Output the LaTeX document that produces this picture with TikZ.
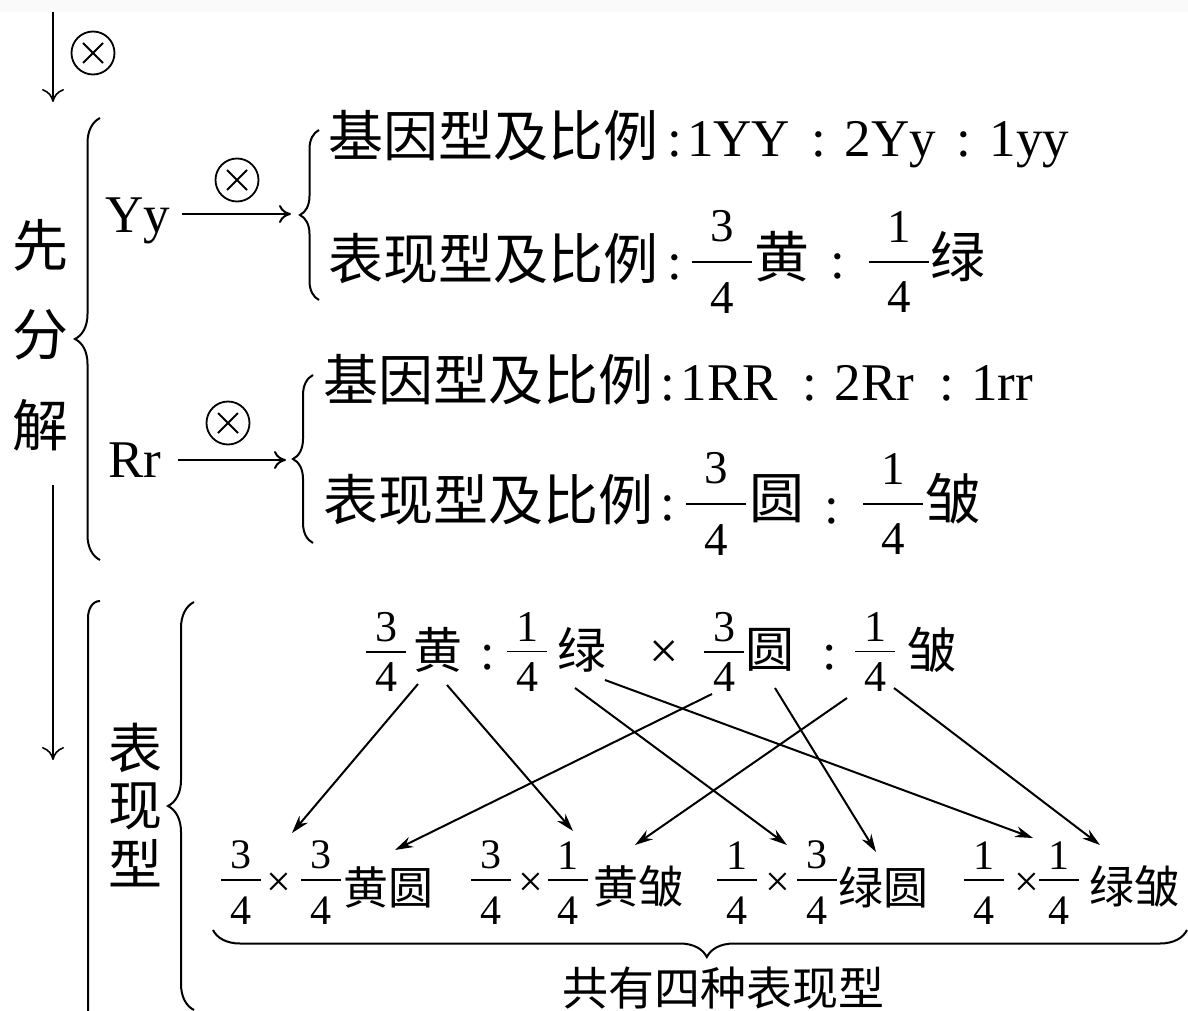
\documentclass[tikz,border=0pt]{standalone}
\usepackage{fontspec}
\setmainfont{Liberation Serif}
\newfontfamily\cjk{Noto Sans CJK SC}
\usetikzlibrary{arrows.meta,decorations.pathreplacing}
% fraction: numerator, denominator, bar width, gap above bar, gap below bar
\newcommand\fr[5]{\vbox{\hbox to #3{\hss#1\hss}\kern#4\hrule height 0.9pt\kern#5\hbox to #3{\hss#2\hss}}}
\newcommand\cjkL{\cjk\fontsize{27.5}{30}\selectfont}
\begin{document}
\begin{tikzpicture}[x=0.5pt,y=-0.5pt,
  every node/.style={inner sep=0pt, outer sep=0pt},
  cjkbig/.style={font=\cjk\fontsize{27.5}{30}\selectfont},
  latbig/.style={font=\fontsize{26.5}{30}\selectfont},
  vchar/.style={font=\cjk\fontsize{28}{30}\selectfont},
  vcharb/.style={font=\cjk\fontsize{27}{30}\selectfont},
  bigfrac/.style={font=\fontsize{23.5}{26}\selectfont},
  medfrac/.style={font=\fontsize{22}{24}\selectfont},
  smallfrac/.style={font=\fontsize{21}{24}\selectfont},
  cjkmed/.style={font=\cjk\fontsize{24.5}{26}\selectfont},
  latmed/.style={font=\fontsize{26}{28}\selectfont},
  cjksm/.style={font=\cjk\fontsize{22.5}{24}\selectfont},
  latsm/.style={font=\fontsize{22}{24}\selectfont},
  cjktot/.style={font=\cjk\fontsize{23}{24}\selectfont},
  curly/.style={line width=1pt, decorate, decoration={brace, amplitude=#1}},
  vline/.style={line width=0.8pt, -{Computer Modern Rightarrow[length=6.5pt,width=11pt]}},
  harrow/.style={line width=1pt, -{Computer Modern Rightarrow[length=6pt,width=9pt]}},
  conn/.style={line width=1pt, -{Stealth[length=9pt,width=5.5pt]}},
  otimes/.style={circle, draw, line width=0.9pt, minimum size=21.5pt, inner sep=0pt,
    path picture={\draw[line width=0.9pt]
      ([shift={(-5pt,-5pt)}]path picture bounding box.center) -- ([shift={(5pt,5pt)}]path picture bounding box.center)
      ([shift={(-5pt,5pt)}]path picture bounding box.center) -- ([shift={(5pt,-5pt)}]path picture bounding box.center);}}
]
\useasboundingbox (0,0) rectangle (1188,1011);
\fill[black!2] (0,0) rectangle (1188,12);

% ---- top arrow ----
\node[otimes] (ox0) at (93,53) {};
\coordinate (in0) at (53,12);
\coordinate (out0) at (53,102);
\draw[vline] (in0) -- (out0);

% ---- left vertical label ----
\node[vchar] (xian) at (40,245) {先};
\node[vchar] (fen) at (40,335) {分};
\node[vchar] (jie) at (40,425) {解};
\coordinate (in1) at (53,485);
\coordinate (out1) at (53,760);
\draw[vline] (in1) -- (out1);

% ---- big braces ----
\draw[curly=12.5pt] (100,560) -- (100,118);
\draw[line width=1pt] (100,601) to[out=180,in=90] (88,618) -- (88,1011);
\draw[curly=13pt] (194,1010) -- (194,602);

% ---- Yy block ----
\node[latbig, anchor=base] (yy) at (138,232) {Yy};
\node[otimes] (ox1) at (237,180) {};
\coordinate (yyfrom) at (182,214);
\coordinate (yyto) at (291,214);
\draw[harrow] (yyfrom) -- (yyto);
\draw[curly=9.5pt] (319,300) -- (319,130);
\node[latbig, anchor=base west] (yyg) at (328,156)
  {{\cjkL 基因型及比例}\kern4.5pt:\kern2.7pt1YY\hspace{10.5pt}:\hspace{9.5pt}2Yy\hspace{10pt}:\hspace{9.5pt}1yy};
\node[latbig, anchor=base west] (yyp) at (328,279) {{\cjkL 表现型及比例}\kern4.5pt:};
\node[bigfrac] (yyf1) at (722,262) {\fr{3}{4}{30pt}{9.5pt}{9.5pt}};
\node[cjkbig] (yyh) at (782,257) {黄};
\node[latbig] (yyc) at (838,266) {:};
\node[bigfrac] (yyf2) at (899,262) {\fr{1}{4}{30pt}{9.5pt}{9.5pt}};
\node[cjkbig] (yyl) at (958,257) {绿};

% ---- Rr block ----
\node[latbig, anchor=base] (rr) at (135,477) {Rr};
\node[otimes] (ox2) at (228,423) {};
\coordinate (rrfrom) at (178,460);
\coordinate (rrto) at (286,460);
\draw[harrow] (rrfrom) -- (rrto);
\draw[curly=10pt] (313,543) -- (313,375);
\node[latbig, anchor=base west] (rrg) at (323,400)
  {{\cjkL 基因型及比例}\kern3.8pt:\kern2.8pt1RR\hspace{12pt}:\hspace{9pt}2Rr\hspace{12.5pt}:\hspace{8.5pt}1rr};
\node[latbig, anchor=base west] (rrp) at (323,520) {{\cjkL 表现型及比例}\kern3.8pt:};
\node[bigfrac] (rrf1) at (716,504) {\fr{3}{4}{30pt}{9.5pt}{9.5pt}};
\node[cjkbig] (rry) at (777,499) {圆};
\node[latbig] (rrc) at (832,511) {:};
\node[bigfrac] (rrf2) at (893,504) {\fr{1}{4}{30pt}{9.5pt}{9.5pt}};
\node[cjkbig] (rrz) at (953,499) {皱};

% ---- lower block label ----
\node[vcharb] (biao) at (135,748) {表};
\node[vcharb] (xian2) at (135,806) {现};
\node[vcharb] (xing) at (135,863) {型};

% ---- top row ----
\node[medfrac] (t1) at (386,652) {\fr{3}{4}{20pt}{4.5pt}{5pt}};
\node[cjkmed] (th) at (438,650) {黄};
\node[latmed] (tc1) at (488,658) {:};
\node[medfrac] (t2) at (527,652) {\fr{1}{4}{20pt}{4.5pt}{5pt}};
\node[cjkmed] (tl) at (582,650) {绿};
\node[latmed] (tx) at (664,655) {×};
\node[medfrac] (t3) at (724,652) {\fr{3}{4}{20pt}{4.5pt}{5pt}};
\node[cjkmed] (ty) at (770,650) {圆};
\node[latmed] (tc2) at (830,658) {:};
\node[medfrac] (t4) at (875,652) {\fr{1}{4}{20pt}{4.5pt}{5pt}};
\node[cjkmed] (tz) at (932,650) {皱};

% ---- bottom row ----
\node[smallfrac] (b1a) at (241,883) {\fr{3}{4}{20pt}{5pt}{8pt}};
\node[latsm] (b1x) at (279,885) {×};
\node[smallfrac] (b1b) at (321,883) {\fr{3}{4}{20pt}{5pt}{8pt}};
\node[cjksm] (b1t) at (388,887) {黄圆};

\node[smallfrac] (b2a) at (491,883) {\fr{3}{4}{20pt}{5pt}{8pt}};
\node[latsm] (b2x) at (531,885) {×};
\node[smallfrac] (b2b) at (568,883) {\fr{1}{4}{20pt}{5pt}{8pt}};
\node[cjksm] (b2t) at (638,887) {黄皱};

\node[smallfrac] (b3a) at (737,883) {\fr{1}{4}{20pt}{5pt}{8pt}};
\node[latsm] (b3x) at (778,885) {×};
\node[smallfrac] (b3b) at (817,883) {\fr{3}{4}{20pt}{5pt}{8pt}};
\node[cjksm] (b3t) at (883,887) {绿圆};

\node[smallfrac] (b4a) at (984,883) {\fr{1}{4}{20pt}{5pt}{8pt}};
\node[latsm] (b4x) at (1027,885) {×};
\node[smallfrac] (b4b) at (1059,883) {\fr{1}{4}{20pt}{5pt}{8pt}};
\node[cjksm] (b4t) at (1134,887) {绿皱};

% ---- arrows ----
\draw[conn] ([shift={(-20,34)}]th.center) -- ([shift={(13,-52)}]b1x.center);
\draw[conn] ([shift={(9,35)}]th.center) -- ([shift={(5,-52)}]b2b.center);
\draw[conn] ([shift={(-7,38)}]tl.center) -- ([shift={(9,-40)}]b3x.center);
\draw[conn] ([shift={(23,30)}]tl.center) -- ([shift={(6,-47)}]b4x.center);
\draw[conn] ([shift={(-12,42)}]t3.center) -- ([shift={(7,-37)}]b1t.center);
\draw[conn] ([shift={(5,38)}]ty.center) -- ([shift={(-7,-35)}]b3t.center);
\draw[conn] ([shift={(-28,46)}]t4.center) -- ([shift={(-3,-42)}]b2t.center);
\draw[conn] ([shift={(-38,38)}]tz.center) -- ([shift={(-34,-42)}]b4t.center);

% ---- bottom brace ----
\draw[line width=1pt, decorate, decoration={brace, amplitude=13.5pt, aspect=0.493}] (1187,930) -- (213,930);
\node[cjktot] (total) at (723,988) {共有四种表现型};
\end{tikzpicture}
\end{document}
